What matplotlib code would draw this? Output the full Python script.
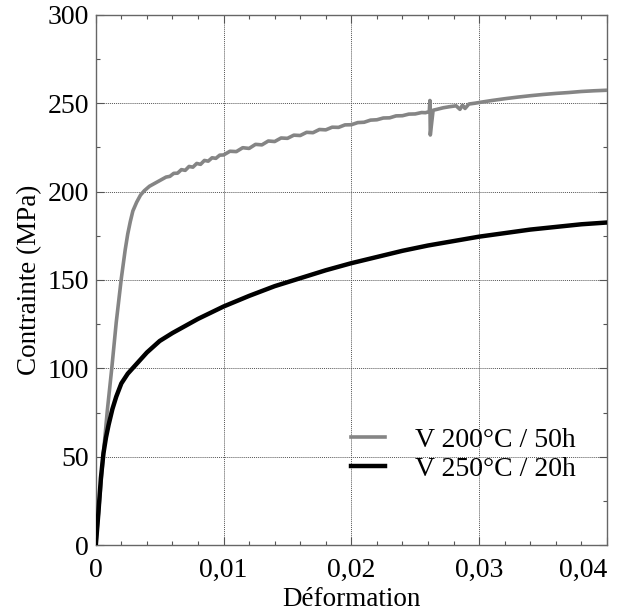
import matplotlib
matplotlib.use("Agg")
import matplotlib.pyplot as plt
from matplotlib.ticker import MultipleLocator, FuncFormatter

# ---- data ----
strain_200 = [0, 0.0003, 0.0006, 0.0009, 0.00125, 0.0016, 0.002, 0.0023, 0.0025, 0.0027,
              0.0029, 0.0032, 0.0035, 0.0038, 0.0042, 0.0047, 0.0052, 0.0055, 0.0058,
              0.0061, 0.0064, 0.0067, 0.0070, 0.0073, 0.0076, 0.0079, 0.0082, 0.0085,
              0.0088, 0.0091, 0.0094, 0.0097, 0.0100, 0.0105, 0.0110, 0.0115, 0.0120,
              0.0125, 0.0130, 0.0135, 0.0140, 0.0145, 0.0150, 0.0155, 0.0160, 0.0165,
              0.0170, 0.0175, 0.0180, 0.0185, 0.0190, 0.0195, 0.0200, 0.0205, 0.0210,
              0.0215, 0.0220, 0.0225, 0.0230, 0.0235, 0.0240, 0.0245, 0.0250, 0.0255,
              0.0258, 0.0261, 0.02615, 0.02618, 0.0264, 0.0267, 0.0272, 0.0277, 0.0282,
              0.0285, 0.0287, 0.0289, 0.0292, 0.0297, 0.0302, 0.0310, 0.0320, 0.0330,
              0.0340, 0.0350, 0.0360, 0.0370, 0.0380, 0.0390, 0.0400, 0.0410]
stress_200 = [0, 26, 52, 76, 100, 126, 151, 167, 176, 183,
              189, 194, 198, 200.5, 203, 205, 207, 208.2, 208.6,
              210.3, 210.4, 212.4, 212, 214.2, 213.8, 215.9, 215.4, 217.6,
              217.2, 219.1, 218.8, 220.6, 220.7, 222.8, 222.6, 224.8, 224.4,
              226.7, 226.4, 228.6, 228.3, 230.3, 230.1, 231.9, 231.7, 233.5,
              233.3, 235.1, 234.9, 236.4, 236.3, 237.7, 237.8, 239, 239.2,
              240.4, 240.6, 241.6, 241.7, 242.8, 242.9, 243.8, 243.9, 244.7,
              244.6, 245.2, 251.5, 232, 246, 246.5, 247.4, 248, 248.5,
              246.5, 248.9, 247, 249.5, 250, 250.6, 251.5, 252.5, 253.4,
              254.2, 254.9, 255.5, 256, 256.6, 257, 257.3, 257.8]

strain_250 = [0, 0.0002, 0.0004, 0.0006, 0.0008, 0.0010, 0.0013, 0.0016, 0.0020, 0.0025,
              0.0030, 0.0035, 0.0040, 0.0050, 0.0060, 0.0070, 0.0080, 0.0090, 0.0100,
              0.0120, 0.0140, 0.0160, 0.0180, 0.0200, 0.0220, 0.0240, 0.0260, 0.0280,
              0.0300, 0.0320, 0.0340, 0.0360, 0.0380, 0.0400, 0.0410]
stress_250 = [0, 18, 38, 52, 61, 68, 77, 84, 91.5, 97,
              101, 105, 109, 115.5, 120, 124, 128, 131.5, 135,
              141, 146.5, 151, 155.5, 159.5, 163, 166.5, 169.5, 172,
              174.5, 176.5, 178.5, 180, 181.5, 182.5, 183]

labels = ["V 200°C / 50h", "V 250°C / 20h"]
x_ticks = [0, 0.01, 0.02, 0.03, 0.04]
y_ticks = [0, 50, 100, 150, 200, 250, 300]

plt.rcParams["font.family"] = ["Liberation Serif", "DejaVu Serif"]

fig = plt.figure(figsize=(6.18, 6.14), dpi=100)
ax = fig.add_axes([0.155, 0.112, 0.827, 0.864])

ax.plot(strain_200, stress_200, color="#858585", lw=2.6, label=labels[0], zorder=3)
ax.plot(strain_250, stress_250, color="black", lw=3.2, label=labels[1], zorder=4)

ax.set_xlim(0, 0.04)
ax.set_ylim(0, 300)
ax.set_xticks(x_ticks)
ax.set_yticks(y_ticks)
ax.xaxis.set_minor_locator(MultipleLocator(0.002))
ax.yaxis.set_minor_locator(MultipleLocator(25))
ax.xaxis.set_major_formatter(FuncFormatter(lambda v, p: "0" if v == 0 else f"{v:.2f}".replace(".", ",")))
ax.yaxis.set_major_formatter(FuncFormatter(lambda v, p: f"{int(v)}"))

ax.tick_params(which="both", direction="in", top=True, right=True, colors="#555555",
               labelcolor="black", labelsize=20)
ax.tick_params(which="major", length=6, width=0.8)
ax.tick_params(which="minor", length=3, width=0.8)
ax.tick_params(axis="x", pad=9)
ax.tick_params(axis="y", pad=5)
for s in ax.spines.values():
    s.set_color("#666666")
    s.set_linewidth(1.0)

fig.canvas.draw()
xl = ax.get_xticklabels()
xl[-1].set_horizontalalignment("right")
xl[-1].set_x(0.0402)

ax.grid(True, which="major", color="#555555", linestyle=(0, (1, 1)), linewidth=0.7)

ax.set_xlabel("Déformation", fontsize=19.5, labelpad=3)
ax.set_ylabel("Contrainte (MPa)", fontsize=19.5, labelpad=4)

leg = ax.legend(loc="upper left", bbox_to_anchor=(0.50, 0.222), frameon=False, fontsize=20,
                handlelength=1.2, handletextpad=1.1, labelspacing=0.12,
                borderpad=0, borderaxespad=0)

fig.savefig("out.png", dpi=100)
